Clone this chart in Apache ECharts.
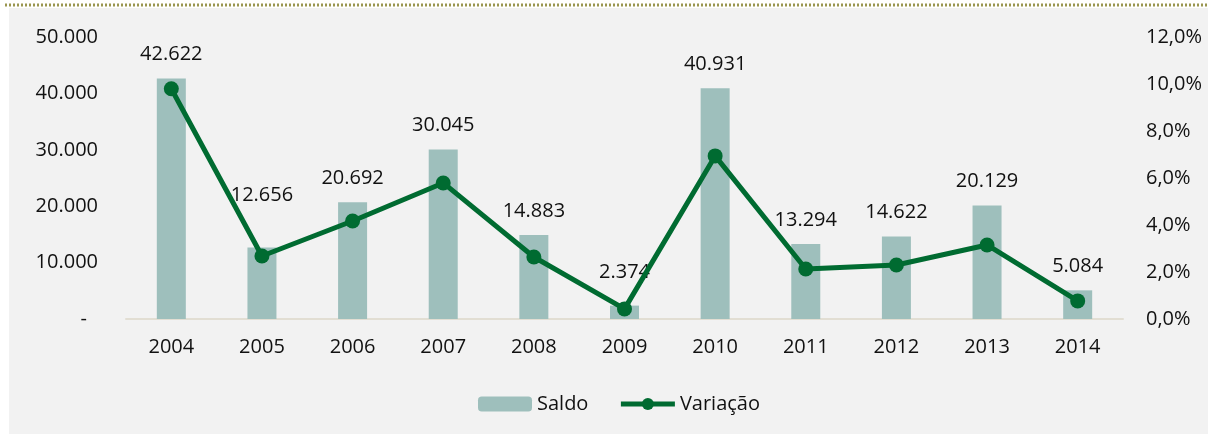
<!DOCTYPE html>
<html>
<head>
<meta charset="utf-8">
<script src="https://cdn.jsdelivr.net/npm/echarts@6/dist/echarts.min.js"></script>
<style>
  html, body { margin: 0; padding: 0; background: #fff; }
  #chart { width: 1208px; height: 434px; }
</style>
</head>
<body>
<div id="chart"></div>
<script>
// dados
const anos = ['2004', '2005', '2006', '2007', '2008', '2009', '2010', '2011', '2012', '2013', '2014']
const saldo = [42622, 12656, 20692, 30045, 14883, 2374, 40931, 13294, 14622, 20129, 5084]
const variacao = [0.098, 0.0268, 0.0417, 0.0579, 0.0264, 0.0043, 0.0694, 0.0213, 0.0230, 0.0315, 0.0077]

// rótulos deslocados à mão no original
const labelNudge = { 1: -28, 5: -9 }

const fmtMil = v => v === 0 ? '{z|-}' : v.toLocaleString('de-DE')
const fmtPct = v => (v * 100).toFixed(1).replace('.', ',') + '%'

const chart = echarts.init(document.getElementById('chart'))
const font = "'Open Sans', sans-serif"
const verde = '#006b31'

chart.setOption({
  backgroundColor: '#fff',
  textStyle: { fontFamily: font },
  graphic: [
    { type: 'rect', z: -10, shape: { x: 9, y: 8, width: 1199, height: 426 }, style: { fill: '#f2f2f2' } },
    { type: 'line', shape: { x1: 5, y1: 5, x2: 1208, y2: 5 }, style: { stroke: '#9a9650', lineWidth: 3, lineDash: [2, 2] } }
  ],
  grid: { left: 126, right: 85, top: 37, bottom: 115 },
  legend: {
    top: 389,
    left: 473,
    itemWidth: 54,
    itemHeight: 15,
    itemGap: 30,
    textStyle: { fontSize: 20, color: '#111', fontFamily: font },
    data: [
      'Saldo',
      { name: 'Variação', lineStyle: { width: 5, color: verde }, itemStyle: { color: verde } }
    ]
  },
  xAxis: {
    type: 'category',
    data: anos,
    axisLine: { lineStyle: { color: '#e2ded3', width: 2 } },
    axisTick: { show: false },
    axisLabel: { color: '#111', fontSize: 20, margin: 18 }
  },
  yAxis: [
    {
      type: 'value', min: 0, max: 50000, interval: 10000,
      splitLine: { show: false },
      axisLabel: {
        color: '#111', fontSize: 20, margin: 28, formatter: fmtMil,
        rich: { z: { fontSize: 20, color: '#111', padding: [0, 11, 0, 0] } }
      }
    },
    {
      type: 'value', min: 0, max: 0.12, interval: 0.02,
      splitLine: { show: false },
      axisLabel: { color: '#111', fontSize: 20, margin: 23, formatter: fmtPct }
    }
  ],
  series: [
    {
      name: 'Saldo',
      type: 'bar',
      barWidth: 29,
      itemStyle: { color: '#9ebfbc' },
      data: saldo.map((v, i) => ({
        value: v,
        label: labelNudge[i] ? { offset: [0, labelNudge[i]] } : undefined
      })),
      label: {
        show: true,
        position: 'top',
        distance: 14,
        color: '#111',
        fontSize: 20,
        formatter: p => p.value.toLocaleString('de-DE')
      }
    },
    {
      name: 'Variação',
      type: 'line',
      yAxisIndex: 1,
      data: variacao,
      symbol: 'circle',
      symbolSize: 15,
      lineStyle: { color: verde, width: 5 },
      itemStyle: { color: verde },
      z: 5
    }
  ]
})
</script>
</body>
</html>
